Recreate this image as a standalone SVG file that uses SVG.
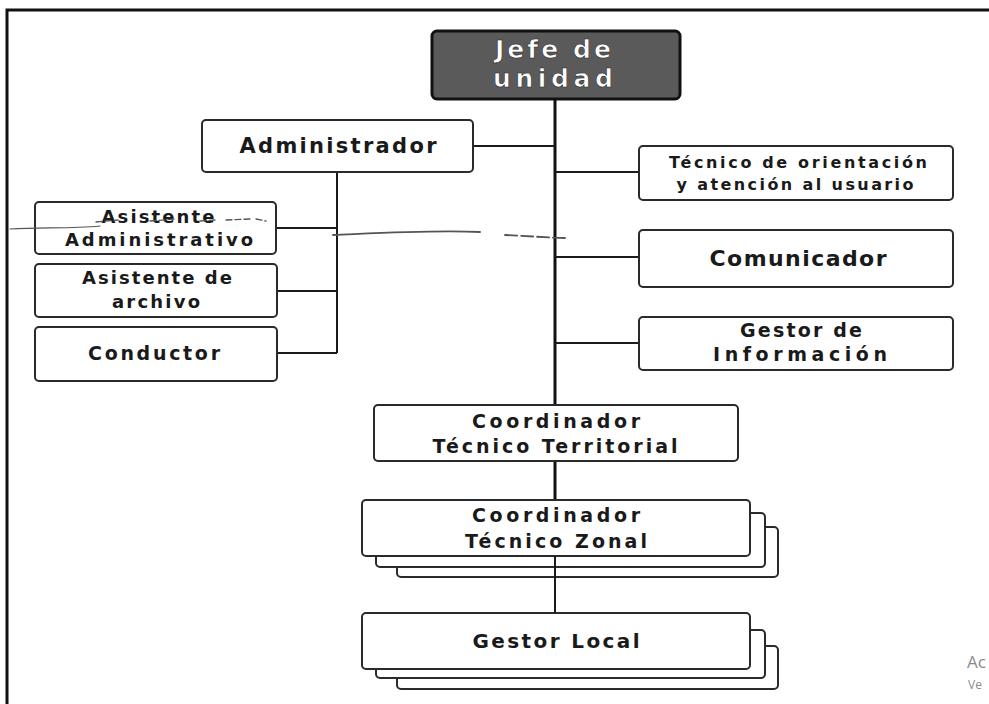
<svg xmlns="http://www.w3.org/2000/svg" width="989" height="704" viewBox="0 0 989 704">
<style>
.box{fill:#ffffff;stroke:#2a2a2a;stroke-width:2}
.t{font-family:"DejaVu Sans","Open Sans",sans-serif;font-weight:bold;fill:#1a1a1a;text-anchor:middle}
.w{fill:#ffffff;stroke:#222;stroke-width:0.6}
.c{stroke:#1a1a1a;stroke-width:2;fill:none}
.trunk{stroke:#111;stroke-width:3;fill:none}
</style>
<rect x="0" y="0" width="989" height="704" fill="#ffffff"/>
<path d="M7,704 V10 H989" fill="none" stroke="#111" stroke-width="3"/>

<g id="connectors">
<line class="trunk" x1="555" y1="99" x2="555" y2="405"/>
<line class="c" x1="473" y1="146" x2="555" y2="146"/>
<line class="c" x1="555" y1="172" x2="639" y2="172"/>
<line class="c" x1="555" y1="257" x2="639" y2="257"/>
<line class="c" x1="555" y1="343" x2="639" y2="343"/>
<line class="c" x1="337" y1="172" x2="337" y2="353"/>
<line class="c" x1="276" y1="228" x2="337" y2="228"/>
<line class="c" x1="277" y1="291" x2="337" y2="291"/>
<line class="c" x1="277" y1="353" x2="337" y2="353"/>
<line class="trunk" x1="555" y1="461" x2="555" y2="500"/>
</g>

<g id="jefe">
<rect x="432" y="31" width="248" height="68" rx="5" fill="#5a5a5a" stroke="#111" stroke-width="3"/>
<text class="t w" x="553" y="58" font-size="25" textLength="116" lengthAdjust="spacing">Jefe de</text>
<text class="t w" x="553" y="87" font-size="25" textLength="120" lengthAdjust="spacing">unidad</text>
</g>

<g id="administrador">
<rect class="box" x="202" y="120" width="271" height="52" rx="4"/>
<text class="t" x="338" y="153" font-size="21" textLength="197" lengthAdjust="spacing">Administrador</text>
</g>

<g id="asistente-administrativo">
<rect class="box" x="35" y="202" width="241" height="52" rx="4"/>
<text class="t" x="158" y="223" font-size="18" textLength="113" lengthAdjust="spacing">Asistente</text>
<text class="t" x="159" y="246" font-size="18" textLength="188" lengthAdjust="spacing">Administrativo</text>
</g>

<g id="asistente-archivo">
<rect class="box" x="35" y="264" width="242" height="53" rx="4"/>
<text class="t" x="157" y="284" font-size="18" textLength="150" lengthAdjust="spacing">Asistente de</text>
<text class="t" x="156" y="308" font-size="18" textLength="88" lengthAdjust="spacing">archivo</text>
</g>

<g id="conductor">
<rect class="box" x="35" y="327" width="242" height="54" rx="4"/>
<text class="t" x="154" y="360" font-size="19" textLength="132" lengthAdjust="spacing">Conductor</text>
</g>

<g id="tecnico">
<rect class="box" x="639" y="146" width="314" height="54" rx="4"/>
<text class="t" x="798" y="168" font-size="16" textLength="258" lengthAdjust="spacing">Técnico de orientación</text>
<text class="t" x="795" y="190" font-size="16" textLength="237" lengthAdjust="spacing">y atención al usuario</text>
</g>

<g id="comunicador">
<rect class="box" x="639" y="230" width="314" height="57" rx="4"/>
<text class="t" x="798" y="266" font-size="22" textLength="177" lengthAdjust="spacing">Comunicador</text>
</g>

<g id="gestor-informacion">
<rect class="box" x="639" y="317" width="314" height="53" rx="4"/>
<text class="t" x="801" y="337" font-size="19" textLength="122" lengthAdjust="spacing">Gestor de</text>
<text class="t" x="800" y="361" font-size="19" textLength="174" lengthAdjust="spacing">Información</text>
</g>

<g id="coordinador-territorial">
<rect class="box" x="374" y="405" width="364" height="56" rx="4"/>
<text class="t" x="556" y="428" font-size="19" textLength="168" lengthAdjust="spacing">Coordinador</text>
<text class="t" x="555" y="453" font-size="19" textLength="245" lengthAdjust="spacing">Técnico Territorial</text>
</g>

<g id="coordinador-zonal">
<rect class="box" x="397" y="527" width="381" height="50" rx="4"/>
<rect class="box" x="376" y="513" width="389" height="54" rx="4"/>
<rect class="box" x="362" y="500" width="388" height="56" rx="4"/>
<text class="t" x="556" y="522" font-size="19" textLength="168" lengthAdjust="spacing">Coordinador</text>
<text class="t" x="556" y="548" font-size="19" textLength="182" lengthAdjust="spacing">Técnico Zonal</text>
</g>

<g id="gestor-local">
<rect class="box" x="397" y="646" width="381" height="43" rx="4"/>
<rect class="box" x="376" y="630" width="389" height="48" rx="4"/>
<rect class="box" x="362" y="613" width="388" height="56" rx="4"/>
<text class="t" x="556" y="648" font-size="20" textLength="167" lengthAdjust="spacing">Gestor Local</text>
</g>

<g id="connectors-lower">
<line class="c" x1="555" y1="556" x2="555" y2="613"/>
</g>

<g id="scribbles" fill="none" stroke="#555" stroke-linecap="round">
<path d="M10,229 C40,227 70,229 100,226" stroke-width="1.2"/>
<path d="M96,222 L118,220 M150,221 L175,219 M200,221 L215,220 M226,220 L250,219 M256,219 L266,221" stroke-width="1.3" stroke-dasharray="6 3"/>
<path d="M333,235 C380,233 430,230 480,232" stroke-width="1.8"/>
<path d="M505,235 C530,236 550,238 568,238" stroke-width="1.8" stroke-dasharray="12 4"/>
</g>

<g id="watermark" font-family="'Open Sans','Noto Sans',sans-serif" fill="#8a8a8a">
<text x="967" y="668" font-size="17">Ac</text>
<text x="968" y="689" font-size="12">Ve</text>
</g>
</svg>
